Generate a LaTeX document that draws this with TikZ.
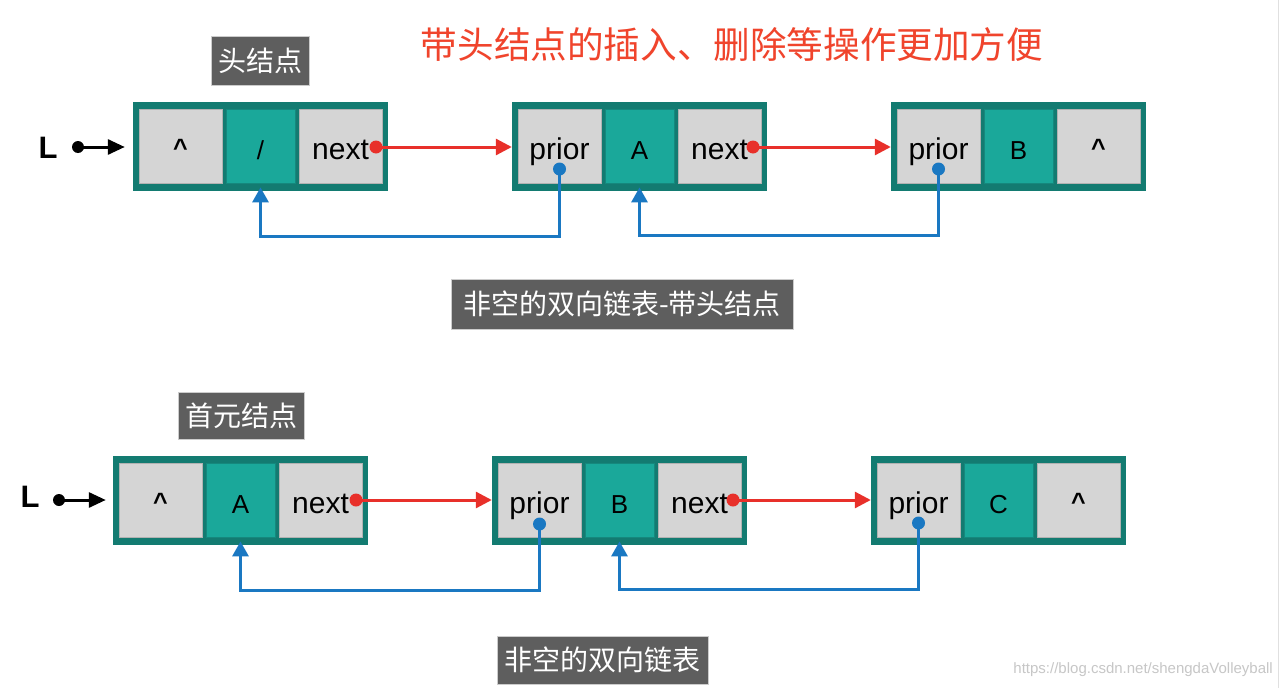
\documentclass[tikz,border=0pt]{standalone}
\usepackage{fontspec}
\setmainfont{Liberation Sans}
\newfontfamily\cjk{Noto Sans CJK SC}
\usetikzlibrary{arrows.meta}
\definecolor{outerteal}{HTML}{137B71}
\definecolor{cellteal}{HTML}{1AA89A}
\definecolor{cellgray}{HTML}{D5D5D5}
\definecolor{redline}{HTML}{E8302A}
\definecolor{blueline}{HTML}{1A78C2}
\definecolor{labelbg}{HTML}{5E5E5E}
\definecolor{titlered}{HTML}{F0442C}
\newcommand{\ptrfont}{\fontsize{30}{32}\selectfont}
\newcommand{\datfont}{\fontsize{26}{28}\selectfont}
\newcommand{\nullptr}{\raisebox{2.5pt}{\bfseries\fontsize{25}{27}\selectfont\char"5E}}
\newcommand{\dlnode}[6]{%
  \node[outerbox] (#1) at (#2+127.5,#3) {};
  \node[graycell] (#1-1) at (#2+47.5,#3) {#4};
  \node[tealcell] (#1-2) at (#2+127.5,#3) {\datfont #5};
  \node[graycell] (#1-3) at (#2+207.5,#3) {#6};
}
\tikzset{
  outerbox/.style={fill=outerteal, draw=none, minimum width=255pt, minimum height=89pt, inner sep=0pt},
  graycell/.style={fill=cellgray, draw=black!30, line width=0.8pt, minimum width=83pt, minimum height=74pt, inner sep=0pt, text height=30pt, text depth=4pt},
  tealcell/.style={fill=cellteal, draw=outerteal!70!cellteal, line width=0.8pt, minimum width=69pt, minimum height=74pt, inner sep=0pt, text height=30pt, text depth=4pt},
  labelbox/.style={fill=labelbg, draw=black!20, line width=0.8pt, text=white, inner sep=0pt, font=\cjk\fontsize{28}{30}\selectfont},
  redarrow/.style={draw=redline, line width=3pt, -{Triangle[length=16pt,width=16pt]}},
  bluearrow/.style={draw=blueline, line width=3pt, -{Triangle[length=15pt,width=16pt]}},
  blackarrow/.style={draw=black, line width=3pt, -{Triangle[length=17pt,width=15pt]}},
  Lfont/.style={font=\bfseries\fontsize{31}{31}\selectfont, anchor=base, inner sep=0pt},
}
\begin{document}
\begin{tikzpicture}[x=1pt,y=-1pt]
\path[fill=white] (0,0) rectangle (1282,688);
\useasboundingbox (0,0) rectangle (1282,688);
\draw[black!12, line width=1.5pt] (1278.5,0) -- (1278.5,688);

% title
\node[text=titlered, font=\cjk\fontsize{36.6}{38}\selectfont, inner sep=0pt] (title) at (732,45) {带头结点的插入、删除等操作更加方便};

% ---------- top row ----------
\dlnode{t1}{133}{146}{\nullptr}{/}{\ptrfont next}
\dlnode{t2}{512}{146}{\ptrfont prior}{A}{\ptrfont next}
\dlnode{t3}{891}{146}{\ptrfont prior}{B}{\nullptr}

\node[labelbox, minimum width=98pt, minimum height=49pt] (lab1) at (260,60.5) {头结点};
\node[labelbox, minimum width=342pt, minimum height=50pt] (lab2) at (622,304) {非空的双向链表-带头结点};

\node[Lfont] (L1) at (48,158) {L};
\coordinate (L1d) at (78,147);
\fill (L1d) circle (6pt);
\draw[blackarrow, shorten >=8pt] (L1d) -- (t1.west |- L1d);

\coordinate (t1n) at (376,147);
\coordinate (t2n) at (753,147);
\draw[redarrow] (t1n) -- (t2.west |- t1n);
\draw[redarrow] (t2n) -- (t3.west |- t2n);
\fill[redline] (t1n) circle (6.5pt);
\fill[redline] (t2n) circle (6.5pt);

\coordinate (t2p) at (t2-1 |- 0,169);
\coordinate (t3p) at (t3-1 |- 0,169);
\draw[bluearrow] (t2p) -- ++(0,67) -| ([yshift=-4pt]t1-2.south);
\draw[bluearrow] (t3p) -- ++(0,66) -| ([yshift=-4pt]t2-2.south);
\fill[blueline] (t2p) circle (6.5pt);
\fill[blueline] (t3p) circle (6.5pt);

% ---------- bottom row ----------
\dlnode{b1}{113}{500}{\nullptr}{A}{\ptrfont next}
\dlnode{b2}{492}{500}{\ptrfont prior}{B}{\ptrfont next}
\dlnode{b3}{871}{500}{\ptrfont prior}{C}{\nullptr}

\node[labelbox, minimum width=126pt, minimum height=47pt] (lab3) at (241,415.5) {首元结点};
\node[labelbox, minimum width=211pt, minimum height=48pt] (lab4) at (602.5,660) {非空的双向链表};

\node[Lfont] (L2) at (30,507) {L};
\coordinate (L2d) at (59,500);
\fill (L2d) circle (6pt);
\draw[blackarrow, shorten >=7pt] (L2d) -- (b1.west |- L2d);

\coordinate (b1n) at (356,500);
\coordinate (b2n) at (733,500);
\draw[redarrow] (b1n) -- (b2.west |- b1n);
\draw[redarrow] (b2n) -- (b3.west |- b2n);
\fill[redline] (b1n) circle (6.5pt);
\fill[redline] (b2n) circle (6.5pt);

\coordinate (b2p) at (b2-1 |- 0,524);
\coordinate (b3p) at (b3-1 |- 0,523);
\draw[bluearrow] (b2p) -- ++(0,66) -| ([yshift=-4pt]b1-2.south);
\draw[bluearrow] (b3p) -- ++(0,66) -| ([yshift=-4pt]b2-2.south);
\fill[blueline] (b2p) circle (6.5pt);
\fill[blueline] (b3p) circle (6.5pt);

\node[text=black!22, font=\fontsize{15}{16}\selectfont, anchor=east, inner sep=0pt] (url) at (1273,670) {https://blog.csdn.net/shengdaVolleyball};
\end{tikzpicture}
\end{document}
